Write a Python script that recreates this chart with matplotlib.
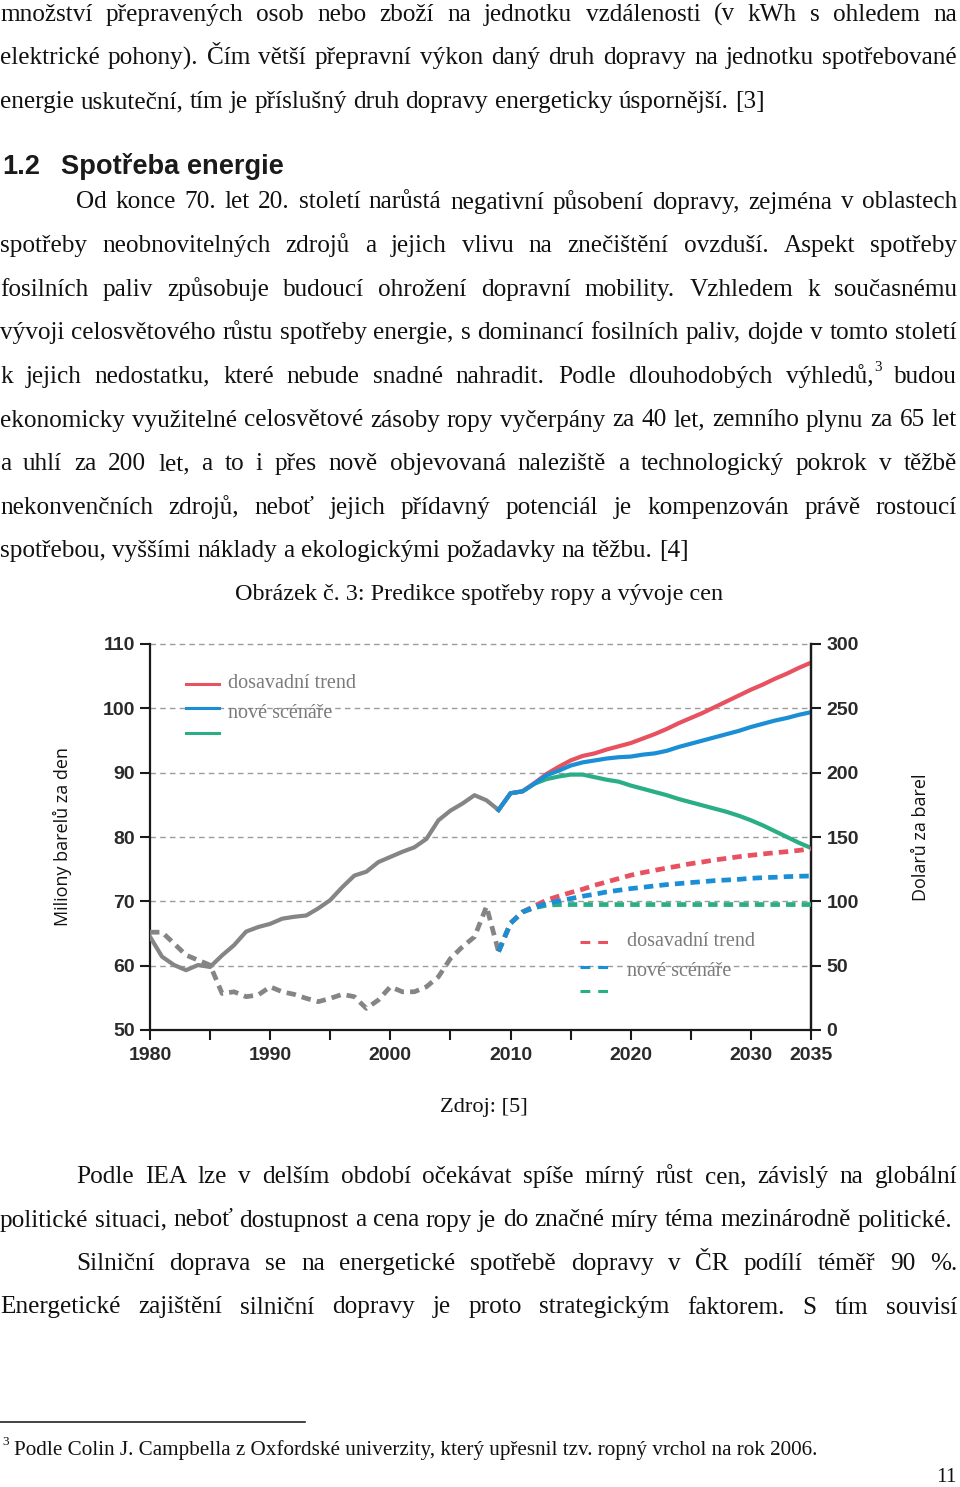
import matplotlib
matplotlib.use("Agg")
import matplotlib.pyplot as plt
from matplotlib import font_manager

# ---------------- data ----------------
years_hist = list(range(1980, 2010))
consumption_hist = [64.5, 61.4, 60.1, 59.3, 60.1, 59.8, 61.6, 63.2, 65.3, 66.0,
                    66.5, 67.3, 67.6, 67.8, 68.9, 70.2, 72.2, 74.0, 74.6, 76.1,
                    76.9, 77.7, 78.4, 79.7, 82.6, 84.1, 85.2, 86.5, 85.7, 84.2]
price_hist = [76.0, 76.0, 67.2, 58.2, 54.3, 50.4, 28.4, 29.7, 25.9, 27.2,
              33.6, 29.7, 27.7, 24.6, 22.0, 24.6, 27.7, 25.9, 16.8, 23.3,
              33.6, 29.7, 29.7, 33.6, 41.4, 55.6, 64.7, 72.4, 96.0, 61.0]

years_proj = list(range(2009, 2036))
cons_trend = [84.2, 86.8, 87.1, 88.4, 89.8, 90.9, 91.9, 92.6, 93.0, 93.6,
              94.1, 94.6, 95.3, 96.0, 96.8, 97.7, 98.5, 99.3, 100.2, 101.1,
              102.0, 102.9, 103.7, 104.6, 105.4, 106.3, 107.1]
cons_new = [84.2, 86.8, 87.1, 88.3, 89.6, 90.3, 91.1, 91.6, 91.9, 92.2,
            92.4, 92.5, 92.8, 93.0, 93.4, 94.0, 94.5, 95.0, 95.5, 96.0,
            96.5, 97.1, 97.6, 98.1, 98.5, 99.0, 99.4]
cons_450 = [84.2, 86.8, 87.1, 88.3, 89.0, 89.4, 89.7, 89.7, 89.3, 88.9,
            88.6, 88.0, 87.5, 87.0, 86.5, 85.9, 85.4, 84.9, 84.4, 83.9,
            83.3, 82.6, 81.8, 80.9, 80.0, 79.1, 78.3]
price_trend = [61.0, 83.0, 91.7, 96.5, 100.9, 104.0, 106.8, 109.4, 112.5, 115.1,
               117.7, 120.3, 122.3, 124.1, 125.9, 127.5, 129.3, 130.6, 132.2, 133.4,
               134.7, 135.8, 136.8, 137.8, 138.6, 139.6, 140.9]
price_new = [61.0, 83.0, 91.7, 95.5, 98.3, 100.3, 102.1, 104.0, 105.5, 107.3,
             108.6, 109.9, 110.9, 112.0, 113.0, 113.8, 114.6, 115.3, 116.1, 116.6,
             117.1, 117.9, 118.4, 118.7, 119.2, 119.5, 119.7]
price_450 = [61.0, 83.0, 91.7, 95.0, 97.0, 97.5, 97.5, 97.5, 97.5, 97.5,
             97.5, 97.5, 97.5, 97.5, 97.5, 97.5, 97.5, 97.5, 97.5, 97.5,
             97.5, 97.5, 97.5, 97.5, 97.5, 97.5, 97.5]

x_ticks = list(range(1980, 2036, 5))
x_labels = ["1980", "", "1990", "", "2000", "", "2010", "", "2020", "", "2030", "2035"]
left_ticks = [50, 60, 70, 80, 90, 100, 110]
right_ticks = [0, 50, 100, 150, 200, 250, 300]
legend_labels = ["dosavadní trend", "nové scénáře", ""]

# ---------------- fonts ----------------
names = {f.name for f in font_manager.fontManager.ttflist}
NARROW = "Liberation Sans Narrow" if "Liberation Sans Narrow" in names else "Liberation Sans"
SERIF = ["Liberation Serif", "DejaVu Serif"]
SANS = ["Open Sans", "DejaVu Sans"]

RED = "#E8515F"
BLUE = "#1B8FD6"
GREEN = "#2AAE85"
GRAY = "#858585"

W, H = 960, 1487
fig = plt.figure(figsize=(W / 100, H / 100), dpi=100)
page = fig.add_axes([0, 0, 1, 1])
page.set_xlim(0, W)
page.set_ylim(H, 0)
page.axis("off")
renderer = fig.canvas.get_renderer()

BODY = 18.2


def width_of(s, size, family=SERIF, weight="normal"):
    t = page.text(0, 0, s, fontsize=size, family=family, weight=weight)
    w = t.get_window_extent(renderer).width
    t.remove()
    return w


def put_line(words, y, x0=0, x1=957, size=BODY, justify=True):
    toks = []
    for wd in words.split(" "):
        sup = None
        if "^" in wd:
            wd, sup = wd.split("^")
        w = width_of(wd, size)
        ws = width_of(sup, size * 0.6) if sup else 0
        toks.append((wd, sup, w, ws))
    total = sum(t[2] + t[3] for t in toks)
    if justify and len(toks) > 1:
        gap = (x1 - x0 - total) / (len(toks) - 1)
    else:
        gap = width_of("a b", size) - width_of("ab", size)
    x = x0
    for wd, sup, w, ws in toks:
        page.text(x, y, wd, fontsize=size, family=SERIF, va="baseline", ha="left", color="#111111")
        if sup:
            page.text(x + w + 1, y - 12, sup, fontsize=size * 0.6, family=SERIF,
                      va="baseline", ha="left", color="#111111")
        x += w + ws + gap


put_line("množství přepravených osob nebo zboží na jednotku vzdálenosti (v kWh s ohledem na", 20.7)
put_line("elektrické pohony). Čím větší přepravní výkon daný druh dopravy na jednotku spotřebované", 64.3)
put_line("energie uskuteční, tím je příslušný druh dopravy energeticky úspornější. [3]", 108, justify=False)

page.text(2, 173.5, "1.2", fontsize=19.6, family=NARROW, weight="bold", va="baseline", color="#1a1a1a")
page.text(61, 173.5, "Spotřeba energie", fontsize=19.6, family=NARROW, weight="bold", va="baseline", color="#1a1a1a")

para = [
    ("Od konce 70. let 20. století narůstá negativní působení dopravy, zejména v oblastech", 76, True),
    ("spotřeby neobnovitelných zdrojů a jejich vlivu na znečištění ovzduší. Aspekt spotřeby", 0, True),
    ("fosilních paliv způsobuje budoucí ohrožení dopravní mobility. Vzhledem k současnému", 0, True),
    ("vývoji celosvětového růstu spotřeby energie, s dominancí fosilních paliv, dojde v tomto století", 0, True),
    ("k jejich nedostatku, které nebude snadné nahradit. Podle dlouhodobých výhledů,^3 budou", 0, True),
    ("ekonomicky využitelné celosvětové zásoby ropy vyčerpány za 40 let, zemního plynu za 65 let", 0, True),
    ("a uhlí za 200 let, a to i přes nově objevovaná naleziště a technologický pokrok v těžbě", 0, True),
    ("nekonvenčních zdrojů, neboť jejich přídavný potenciál je kompenzován právě rostoucí", 0, True),
    ("spotřebou, vyššími náklady a ekologickými požadavky na těžbu. [4]", 0, False),
]
for i, (txt, x0, j) in enumerate(para):
    put_line(txt, 208.5 + i * 43.6, x0=x0, justify=j)

page.text(479, 600, "Obrázek č. 3: Predikce spotřeby ropy a vývoje cen", fontsize=17.4, family=SERIF,
          ha="center", va="baseline", color="#111111")
page.text(484, 1112, "Zdroj: [5]", fontsize=16.2, family=SERIF, ha="center", va="baseline", color="#111111")

put_line("Podle IEA lze v delším období očekávat spíše mírný růst cen, závislý na globální", 1183, x0=76)
put_line("politické situaci, neboť dostupnost a cena ropy je do značné míry téma mezinárodně politické.", 1226.5, x1=952)
put_line("Silniční doprava se na energetické spotřebě dopravy v ČR podílí téměř 90 %.", 1270, x0=76)
put_line("Energetické zajištění silniční dopravy je proto strategickým faktorem. S tím souvisí", 1313.5)

page.plot([0, 305], [1422, 1422], color="#222222", lw=1.2)
page.text(2, 1445, "3", fontsize=9.5, family=SERIF, va="baseline", color="#111111")
page.text(14, 1455, "Podle Colin J. Campbella z Oxfordské univerzity, který upřesnil tzv. ropný vrchol na rok 2006.",
          fontsize=15.2, family=SERIF, va="baseline", color="#111111")
page.text(957, 1482, "11", fontsize=15.2, family=SERIF, va="baseline", ha="right", color="#111111")

# ---------------- chart ----------------
x0, x1, ytop, ybot = 150, 811, 644, 1030
ax = fig.add_axes([x0 / W, (H - ybot) / H, (x1 - x0) / W, (ybot - ytop) / H])
ax2 = ax.twinx()
ax.set_xlim(1980, 2035)
ax.set_ylim(50, 110)
ax2.set_ylim(0, 300)

ax.set_yticks(left_ticks)
ax2.set_yticks(right_ticks)
ax.set_xticks(x_ticks)
ax.set_xticklabels(x_labels)

for a in (ax, ax2):
    a.spines["top"].set_visible(False)
    for s in a.spines.values():
        s.set_linewidth(1.6)
        s.set_color("#1a1a1a")
ax2.spines["left"].set_visible(False)
ax2.spines["bottom"].set_visible(False)

for y in left_ticks[1:]:
    ax.axhline(y, color="#9c9c9c", lw=1.0, ls=(0, (4, 3)), zorder=0, clip_on=False)

TICKSIZE = 17 if NARROW != "Liberation Sans" else 14
tick_kw = dict(direction="out", length=7, width=1.5, color="#1a1a1a", labelsize=TICKSIZE,
               labelcolor="#2a2a2a")
ax.tick_params(axis="y", pad=4, **tick_kw)
ax2.tick_params(axis="y", pad=4, **tick_kw)
ax.tick_params(axis="x", pad=5, **tick_kw)
for lab in ax.get_xticklabels() + ax.get_yticklabels() + ax2.get_yticklabels():
    lab.set_family(NARROW)
    lab.set_weight("bold")

ax.set_ylabel("Miliony barelů za den", family=SANS, fontsize=13, color="#111111", labelpad=22)
ax2.set_ylabel("Dolarů za barel", family=SANS, fontsize=13, color="#111111", labelpad=38)

LW = 3.0
ax.plot(years_hist, consumption_hist, color=GRAY, lw=LW, solid_joinstyle="round", zorder=3)
ax.plot(years_proj, cons_450, color=GREEN, lw=LW, zorder=3)
ax.plot(years_proj, cons_new, color=BLUE, lw=LW, zorder=4)
ax.plot(years_proj, cons_trend, color=RED, lw=LW, zorder=3)

DASH = (0, (2.0, 1.3))
ax2.plot(years_hist, price_hist, color=GRAY, lw=3.4, ls=DASH, zorder=3)
ax2.plot(years_proj, price_450, color=GREEN, lw=3.4, ls=DASH, zorder=3)
ax2.plot(years_proj, price_trend, color=RED, lw=3.4, ls=DASH, zorder=3)
ax2.plot(years_proj, price_new, color=BLUE, lw=3.4, ls=DASH, zorder=4)


# legends drawn in axes-fraction coordinates
def fx(px):
    return (px - x0) / (x1 - x0)


def fy(py):
    return (ybot - py) / (ybot - ytop)


for lab, col, ly in zip(legend_labels, [RED, BLUE, GREEN], [684, 708, 733]):
    ax.plot([fx(186), fx(219)], [fy(ly), fy(ly)], transform=ax.transAxes, color=col, lw=2.2,
            clip_on=False)
for lab, ly in zip(legend_labels[:2], [684, 714]):
    ax.text(fx(228), fy(ly), lab, transform=ax.transAxes, family=SERIF, fontsize=14.5,
            color="#7a7a7a", va="center", ha="left")

for lab, col, ly in zip(legend_labels, [RED, BLUE, GREEN], [942, 967, 991]):
    ax.plot([fx(580), fx(614)], [fy(ly), fy(ly)], transform=ax.transAxes, color=col, lw=2.2,
            ls=(0, (3.2, 2.6)), clip_on=False)
for lab, ly in zip(legend_labels[:2], [942, 972]):
    ax.text(fx(627), fy(ly), lab, transform=ax.transAxes, family=SERIF, fontsize=14.5,
            color="#7a7a7a", va="center", ha="left")

fig.savefig("out.png", dpi=100)
